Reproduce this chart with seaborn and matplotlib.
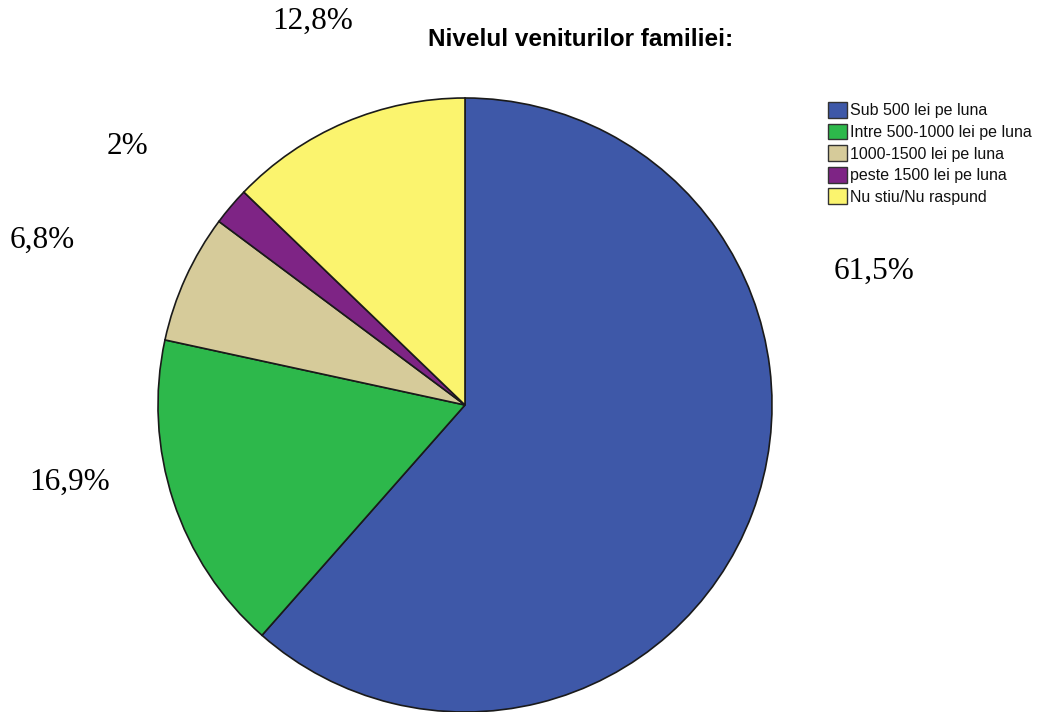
import numpy as np
import matplotlib
matplotlib.use("Agg")
import matplotlib.pyplot as plt
import seaborn as sns

sns.set_theme(style="white")
plt.rcParams['font.family'] = ['Liberation Sans', 'DejaVu Sans']

## data
categories = ["Sub 500 lei pe luna", "Intre 500-1000 lei pe luna",
              "1000-1500 lei pe luna", "peste 1500 lei pe luna",
              "Nu stiu/Nu raspund"]
values = [61.5, 16.9, 6.8, 2.0, 12.8]
pct_labels = ["61,5%", "16,9%", "6,8%", "2%", "12,8%"]
colors = ["#3E58A8", "#2DB84B", "#D6CB9A", "#7E2485", "#FBF46E"]

## label anchor points (figure pixels, from top-left) for the percentages
label_pos = [(874, 271), (70, 482), (42, 240), (127, 147), (313, 21)]

W, H = 1039, 712
fig = plt.figure(figsize=(W / 100, H / 100), dpi=100)
fig.patch.set_facecolor("white")

ax = fig.add_axes([158 / W, 0 / H, 614 / W, 614 / H])
wedges, _ = ax.pie(values, colors=colors, startangle=90, counterclock=False,
                   radius=1.0,
                   wedgeprops=dict(edgecolor="#1a1a1a", linewidth=1.2))
ax.set_xlim(-1.0, 1.0)
ax.set_ylim(-1.0, 1.0)
ax.set_aspect("equal")
ax.axis("off")

## percentage labels, placed by hand like in the original
for txt, (px, py) in zip(pct_labels, label_pos):
    fig.text(px / W, 1 - py / H, txt, ha="center", va="center",
             fontsize=22.5, family=["Liberation Serif", "DejaVu Serif"],
             color="black")

fig.text(581 / W, 1 - 40 / H, "Nivelul veniturilor familiei:",
         ha="center", va="center", fontsize=17.5, fontweight="bold",
         color="black")

leg = fig.legend(wedges, categories, loc="upper left",
                 bbox_to_anchor=(828 / W, 1 - 102 / H), frameon=False,
                 fontsize=11.5, handlelength=1.2, handleheight=1.15,
                 handletextpad=0.2, labelspacing=0.33, borderpad=0,
                 borderaxespad=0)
for h in leg.legend_handles:
    h.set_edgecolor("#333333")
    h.set_linewidth(1.0)
for t in leg.get_texts():
    t.set_color("#111111")

fig.savefig("out.png", dpi=100, facecolor="white")
